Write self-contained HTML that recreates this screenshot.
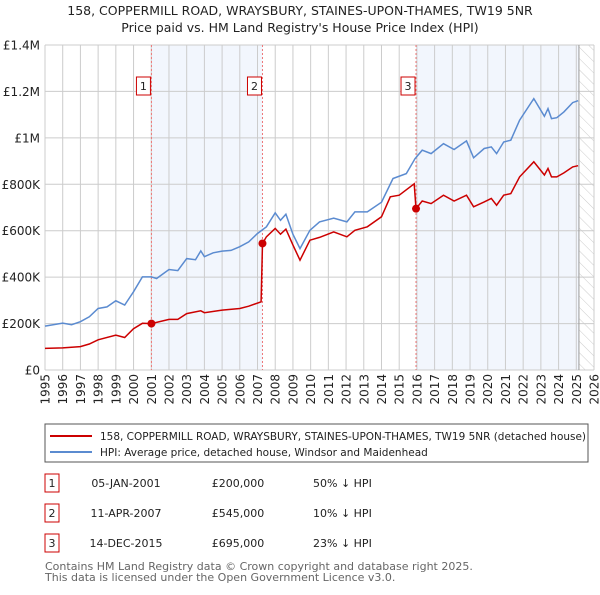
<!DOCTYPE html>
<html><head><meta charset="utf-8"><style>
body{margin:0;background:#fff;font-family:"Liberation Sans","DejaVu Sans",sans-serif;}
svg text{font-family:"DejaVu Sans","Liberation Sans",sans-serif;}
</style></head><body>
<svg id="chart" width="600" height="590" xmlns="http://www.w3.org/2000/svg">
<defs><pattern id="hatch" width="8" height="8" patternUnits="userSpaceOnUse" patternTransform="rotate(-45)"><line x1="0" y1="0" x2="0" y2="8" stroke="#ccc" stroke-width="1"/></pattern></defs>
<text x="300" y="15" text-anchor="middle" font-size="12.5" fill="#222">158, COPPERMILL ROAD, WRAYSBURY, STAINES-UPON-THAMES, TW19 5NR</text>
<text x="300" y="32" text-anchor="middle" font-size="12.5" fill="#222">Price paid vs. HM Land Registry's House Price Index (HPI)</text>
<g id="plot"></g>
<rect x="45" y="424" width="543" height="38" fill="#fff" stroke="#555"/>
<line x1="50" y1="436" x2="92" y2="436" stroke="#cc0000" stroke-width="2"/>
<text x="100" y="440" font-size="10.5" fill="#222" textLength="486" lengthAdjust="spacingAndGlyphs">158, COPPERMILL ROAD, WRAYSBURY, STAINES-UPON-THAMES, TW19 5NR (detached house)</text>
<line x1="50" y1="452" x2="92" y2="452" stroke="#5b8bd0" stroke-width="2"/>
<text x="100" y="456" font-size="10.5" fill="#222">HPI: Average price, detached house, Windsor and Maidenhead</text>
<g font-size="11" fill="#222">
<rect x="45" y="474" width="14" height="18" fill="#fff" stroke="#cc0000"/><text x="52" y="487" text-anchor="middle">1</text>
<text x="126" y="487" text-anchor="middle">05-JAN-2001</text>
<text x="238" y="487" text-anchor="middle">£200,000</text>
<text x="313" y="487">50% ↓ HPI</text>
<rect x="45" y="504" width="14" height="18" fill="#fff" stroke="#cc0000"/><text x="52" y="517" text-anchor="middle">2</text>
<text x="126" y="517" text-anchor="middle">11-APR-2007</text>
<text x="238" y="517" text-anchor="middle">£545,000</text>
<text x="313" y="517">10% ↓ HPI</text>
<rect x="45" y="534" width="14" height="18" fill="#fff" stroke="#cc0000"/><text x="52" y="547" text-anchor="middle">3</text>
<text x="126" y="547" text-anchor="middle">14-DEC-2015</text>
<text x="238" y="547" text-anchor="middle">£695,000</text>
<text x="313" y="547">23% ↓ HPI</text>
</g>
<text x="45" y="570" font-size="11" fill="#666">Contains HM Land Registry data © Crown copyright and database right 2025.</text>
<text x="45" y="581" font-size="11" fill="#666">This data is licensed under the Open Government Licence v3.0.</text>
</svg>
<script>
const hpiDates=[1995,1996,1996.5,1997,1997.5,1998,1998.5,1999,1999.5,2000,2000.5,2001,2001.3,2002,2002.5,2003,2003.5,2003.8,2004,2004.5,2005,2005.5,2006,2006.5,2007,2007.5,2008,2008.3,2008.6,2009,2009.4,2009.96,2010.5,2011.3,2012.05,2012.5,2013.2,2014.0,2014.65,2015.4,2015.9,2016.3,2016.8,2017.5,2018.1,2018.8,2019.2,2019.8,2020.2,2020.5,2020.9,2021.3,2021.8,2022.6,2023.2,2023.4,2023.6,2023.9,2024.3,2024.8,2025.1];
const hpiValues=[189,202,195,208,229,265,272,298,280,337,401,401,394,433,428,480,475,513,488,505,512,515,531,552,588,617,677,645,671,585,523,602,638,654,638,681,681,723,825,846,911,947,932,975,950,987,914,954,961,932,982,990,1076,1169,1093,1126,1083,1087,1112,1152,1160];
const propDates=[1995,1996,1997,1997.5,1998,1999,1999.5,2000,2000.5,2001.01,2002,2002.5,2003,2003.8,2004,2005,2006,2006.5,2007.2,2007.28,2007.5,2008,2008.3,2008.6,2009,2009.4,2009.96,2010.5,2011.3,2012.05,2012.5,2013.2,2014.0,2014.5,2015,2015.85,2015.95,2016.3,2016.8,2017.5,2018.1,2018.8,2019.2,2019.8,2020.2,2020.5,2020.9,2021.3,2021.8,2022.6,2023.2,2023.4,2023.6,2023.9,2024.3,2024.8,2025.1];
const propValues=[93,95,101,112,130,150,140,178,201,200,218,218,243,255,247,258,265,275,294,545,574,610,585,607,539,473,559,571,595,574,602,617,660,746,753,802,695,728,717,753,728,753,703,724,739,710,753,760,832,897,840,868,832,832,849,875,880];
const saleDates=[2001.01,2007.28,2015.95];
const saleValues=[200,545,695];
const saleLabels=["1","2","3"];
const yTicks=[0,200,400,600,800,1000,1200,1400];
const yTickLabels=["£0","£200K","£400K","£600K","£800K","£1M","£1.2M","£1.4M"];
const xTicks=[1995,1996,1997,1998,1999,2000,2001,2002,2003,2004,2005,2006,2007,2008,2009,2010,2011,2012,2013,2014,2015,2016,2017,2018,2019,2020,2021,2022,2023,2024,2025,2026];
const dataEnd=2025.15;

const X0=45,X1=594,Y0=370,Y1=45;
const xS=v=>X0+(v-1995)/(2026-1995)*(X1-X0);
const yS=v=>Y0-v/1400*(Y0-Y1);
const NS="http://www.w3.org/2000/svg";
const g=document.getElementById('plot');
function mk(t,a){const e=document.createElementNS(NS,t);for(const k in a)e.setAttribute(k,a[k]);g.appendChild(e);return e;}
let e;
e=mk('rect',{x:xS(saleDates[0]),y:Y1,width:xS(saleDates[1])-xS(saleDates[0]),height:Y0-Y1,fill:'#f2f6fd'});


e=mk('rect',{x:xS(saleDates[2]),y:Y1,width:xS(dataEnd)-xS(saleDates[2]),height:Y0-Y1,fill:'#f2f6fd'});


e=mk('rect',{x:xS(dataEnd),y:Y1,width:X1-xS(dataEnd),height:Y0-Y1,fill:'url(#hatch)'});


yTicks.forEach((t,i)=>{
 e=mk('line',{x1:X0,x2:X1,y1:yS(t),y2:yS(t),stroke:'#ccc','stroke-width':1});
 
 
 e=mk('text',{x:40,y:yS(t)+4.5,'text-anchor':'end','font-size':12,fill:'#222'});e.textContent=yTickLabels[i];
 
 
});
xTicks.forEach(t=>{
 e=mk('line',{x1:xS(t),x2:xS(t),y1:Y1,y2:Y0,stroke:'#ccc','stroke-width':1});
 
 
 e=mk('text',{x:0,y:0,'text-anchor':'end','font-size':12,fill:'#222',transform:`translate(${xS(t)+4.5},374) rotate(-90)`});e.textContent=t;
 
 
});
e=mk('line',{x1:xS(dataEnd),x2:xS(dataEnd),y1:Y1,y2:Y0,stroke:'#999','stroke-width':1});


saleDates.forEach((d,i)=>{
 e=mk('line',{x1:xS(d),x2:xS(d),y1:Y1,y2:Y0,stroke:'#ee7777','stroke-width':1,'stroke-dasharray':'2,2'});
 
 
 e=mk('rect',{x:xS(d)-15,y:77,width:14,height:18,fill:'#fff',stroke:'#cc0000'});
 
 
 e=mk('text',{x:xS(d)-8,y:90,'text-anchor':'middle','font-size':11,fill:'#222'});e.textContent=saleLabels[i];
 
 
});
const pts=(ds,vs)=>ds.map((d,i)=>xS(d).toFixed(1)+','+yS(vs[i]).toFixed(1)).join(' ');
e=mk('polyline',{points:pts(hpiDates,hpiValues),fill:'none',stroke:'#5b8bd0','stroke-width':1.5});


e=mk('polyline',{points:pts(propDates,propValues),fill:'none',stroke:'#cc0000','stroke-width':1.5});


saleDates.forEach((d,i)=>{
 e=mk('circle',{cx:xS(d),cy:yS(saleValues[i]),r:4,fill:'#cc0000'});
 
 
});
</script>
</body></html>
